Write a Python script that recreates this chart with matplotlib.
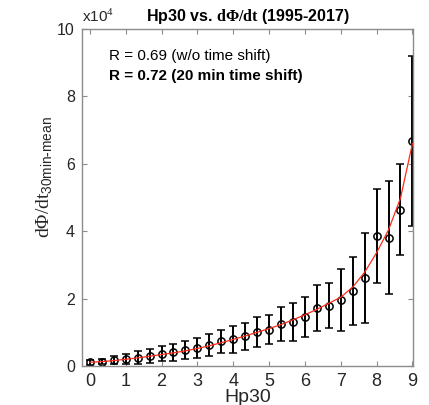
import matplotlib
matplotlib.use("Agg")
import matplotlib.pyplot as plt
import numpy as np

# Hp30 bins (thirds) and dPhi/dt statistics, in units of 1e4
hp30 = [0, 1/3, 2/3, 1, 4/3, 5/3, 2, 7/3, 8/3, 3, 10/3, 11/3, 4, 13/3, 14/3,
        5, 16/3, 17/3, 6, 19/3, 20/3, 7, 22/3, 23/3, 8, 25/3, 26/3, 9]
dphi_mean = [0.11, 0.13, 0.18, 0.21, 0.25, 0.29, 0.36, 0.41, 0.47, 0.54,
             0.62, 0.73, 0.79, 0.88, 1.00, 1.08, 1.24, 1.31, 1.46, 1.71,
             1.79, 1.96, 2.23, 2.61, 3.86, 3.81, 4.63, 6.67]
dphi_std = [0.07, 0.08, 0.13, 0.16, 0.19, 0.20, 0.22, 0.25, 0.27, 0.30,
            0.33, 0.35, 0.39, 0.41, 0.44, 0.44, 0.50, 0.56, 0.60, 0.68,
            0.66, 0.91, 1.01, 1.33, 1.39, 1.68, 1.35, 2.52]
# fitted curve sampled at the same Hp30 values
dphi_fit = [0.11, 0.13, 0.16, 0.20, 0.24, 0.29, 0.34, 0.39, 0.45, 0.52,
            0.60, 0.69, 0.79, 0.89, 1.00, 1.11, 1.23, 1.37, 1.52, 1.68,
            1.86, 2.04, 2.34, 2.78, 3.36, 4.04, 4.98, 6.60]

r_texts = ["R = 0.69 (w/o time shift)", "R = 0.72 (20 min time shift)"]

plt.rcParams["font.family"] = ["Liberation Sans", "DejaVu Sans"]
plt.rcParams["mathtext.fontset"] = "custom"
plt.rcParams["mathtext.rm"] = "Liberation Serif"
plt.rcParams["mathtext.bf"] = "Liberation Serif:bold"
plt.rcParams["mathtext.sf"] = "Liberation Sans"

axcol = "#8c8c8c"
txtcol = "#262626"

fig = plt.figure(figsize=(4.29, 4.05), dpi=100)
ax = fig.add_axes([0.191, 0.0963, 0.772, 0.832])

ax.errorbar(hp30, dphi_mean, yerr=dphi_std, fmt="o", color="black",
            mfc="none", mec="black", ms=5.2, mew=1.1, elinewidth=1.4,
            capsize=3.2, capthick=1.4, zorder=2)
ax.plot(hp30, dphi_fit, color="#ff2a1a", lw=0.9, zorder=3)

ax.set_xlim(-0.22, 9.02)
ax.set_ylim(0, 10)
ax.set_xticks(range(10))
ax.set_yticks([0, 2, 4, 6, 8, 10])

for s in ax.spines.values():
    s.set_color(axcol)
    s.set_linewidth(1.0)
ax.tick_params(direction="in", length=3.5, width=0.8, color=axcol,
               top=True, right=True, labelcolor=txtcol)
ax.tick_params(axis="x", labelsize=13, pad=5)
ax.tick_params(axis="y", labelsize=11.5, pad=5)

ax.set_xlabel("Hp30", fontsize=14, color=txtcol, labelpad=-1)
ax.set_ylabel(r"$\mathrm{d\Phi/dt}_{\mathsf{30min\text{-}mean}}$",
              fontsize=14, color=txtcol)
ax.yaxis.set_label_coords(-0.08, 0.56)
ax.set_title(r"Hp30 vs. $\mathbf{d\Phi/dt}$ (1995-2017)", fontsize=11.5,
             fontweight="bold", color="black", pad=6)
ax.text(0.0, 1.012, r"x10$^{4}$", transform=ax.transAxes, fontsize=11,
        color=txtcol, ha="left", va="bottom")

ax.text(0.083, 0.92, r_texts[0], transform=ax.transAxes, fontsize=11,
        color="black", ha="left", va="center")
ax.text(0.083, 0.86, r_texts[1], transform=ax.transAxes, fontsize=11,
        color="black", ha="left", va="center", fontweight="bold")

fig.savefig("out.png", dpi=100)
